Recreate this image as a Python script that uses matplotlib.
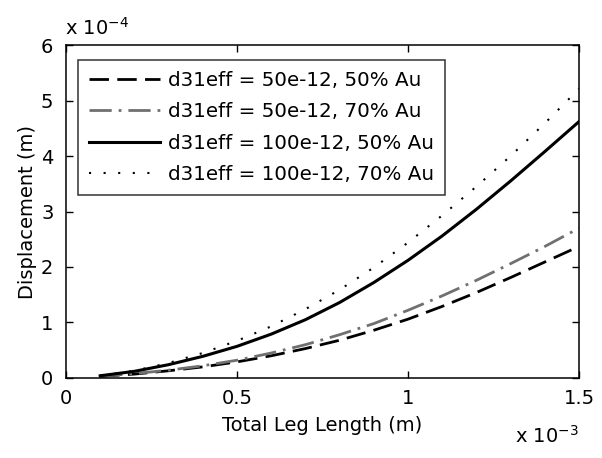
import matplotlib
matplotlib.use("Agg")
import matplotlib.pyplot as plt

plt.rcParams['font.family'] = ['DejaVu Sans']
plt.rcParams['mathtext.fontset'] = 'dejavusans'

# Total leg length (x 1e-3 m)
leg_length = [0.1, 0.2, 0.3, 0.4, 0.5, 0.6, 0.7, 0.8, 0.9, 1.0, 1.1, 1.2, 1.3, 1.4, 1.5]
# Displacement (x 1e-4 m)
d50_au50 = [0.03, 0.07, 0.13, 0.20, 0.29, 0.40, 0.53, 0.68, 0.86, 1.06, 1.29, 1.54, 1.81, 2.09, 2.37]
d50_au70 = [0.03, 0.08, 0.14, 0.22, 0.32, 0.45, 0.60, 0.78, 0.98, 1.22, 1.48, 1.76, 2.06, 2.37, 2.70]
d100_au50 = [0.04, 0.12, 0.24, 0.39, 0.57, 0.79, 1.05, 1.36, 1.72, 2.12, 2.56, 3.04, 3.55, 4.08, 4.62]
d100_au70 = [0.04, 0.13, 0.27, 0.45, 0.67, 0.93, 1.24, 1.59, 1.99, 2.44, 2.93, 3.45, 4.00, 4.59, 5.21]
labels = ["d31eff = 50e-12, 50% Au", "d31eff = 50e-12, 70% Au",
          "d31eff = 100e-12, 50% Au", "d31eff = 100e-12, 70% Au"]
x_ticks = [0, 0.5, 1, 1.5]
x_ticklabels = ["0", "0.5", "1", "1.5"]
y_ticks = [0, 1, 2, 3, 4, 5, 6]

FS = 14

fig = plt.figure(figsize=(6.02, 4.58), dpi=100)
ax = fig.add_axes([0.1096, 0.1747, 0.8522, 0.727])

ax.plot(leg_length, d50_au50, color='black', lw=2.0, linestyle=(0, (7, 3)), label=labels[0])
ax.plot(leg_length, d50_au70, color='#707070', lw=2.0, linestyle=(0, (8, 2.5, 1, 2.5)), label=labels[1])
ax.plot(leg_length, d100_au50, color='black', lw=2.2, linestyle='-', label=labels[2])
ax.plot(leg_length, d100_au70, color='black', lw=1.5, linestyle=(0, (1, 6)), label=labels[3])

ax.set_xlim(0, 1.5)
ax.set_ylim(0, 6)
ax.set_xticks(x_ticks)
ax.set_xticklabels(x_ticklabels)
ax.set_yticks(y_ticks)
ax.tick_params(direction='in', top=True, right=True, length=5, width=1, labelsize=FS)
ax.tick_params(axis='x', pad=8)
ax.tick_params(axis='y', pad=9)
for s in ax.spines.values():
    s.set_linewidth(1.1)

ax.set_xlabel("Total Leg Length (m)", fontsize=FS, labelpad=6)
ax.set_ylabel("Displacement (m)", fontsize=FS, labelpad=3)

fig.text(0.108, 0.925, r"x 10$^{-4}$", fontsize=FS, ha='left', va='baseline')
fig.text(0.962, 0.033, r"x 10$^{-3}$", fontsize=FS, ha='right', va='baseline')

leg = ax.legend(loc='upper left', bbox_to_anchor=(0.0234, 0.955), fontsize=14.3, frameon=True,
                fancybox=False, edgecolor='black', handlelength=3.6, handletextpad=0.4,
                labelspacing=0.62, borderpad=0.55, borderaxespad=0)
leg.get_frame().set_linewidth(1.1)

fig.savefig("out.png", dpi=100)
